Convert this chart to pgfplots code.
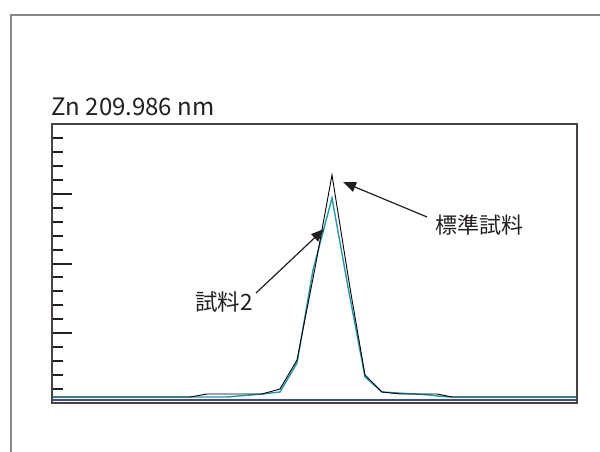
\documentclass[border=0pt]{standalone}
\usepackage{fontspec}
\setmainfont{Noto Sans CJK JP}
\usepackage{pgfplots}
\pgfplotsset{compat=1.18}
\usetikzlibrary{arrows.meta}
\definecolor{framegray}{HTML}{8C8682}
\definecolor{axisgray}{HTML}{4A4240}
\definecolor{tealc}{HTML}{1E9AAA}
\definecolor{bluec}{HTML}{3A4A9A}
\definecolor{textc}{HTML}{231F20}
\begin{document}
\begin{tikzpicture}
\path[use as bounding box] (0pt,0pt) rectangle (600pt,-452pt);
\draw[color=framegray, line width=1.8pt] (11pt,-452pt) -- (11pt,-15pt) -- (601pt,-15pt);
\node[anchor=base west, inner sep=0pt, font=\fontsize{24}{26}\selectfont, text=textc] at (51pt,-115pt) {Zn 209.986 nm};
\node[anchor=west, inner sep=0pt, font=\fontsize{22.5}{24}\selectfont, text=textc] at (195pt,-301.5pt) {試料2};
\node[anchor=west, inner sep=0pt, font=\fontsize{22}{24}\selectfont, text=textc] at (435pt,-225pt) {標準試料};
\begin{axis}[at={(52pt,-403pt)}, anchor=south west, scale only axis,
  width=525pt, height=279pt, xmin=52, xmax=577, ymin=0, ymax=4,
  xtick=\empty, ytick={0,1,2,3,4}, minor y tick num=4, yticklabels={},
  tick align=inside, ytick pos=left,
  major tick length=20pt, minor tick length=11pt,
  major tick style={line width=2pt, draw=textc},
  minor tick style={line width=2pt, draw=textc},
  axis line style={line width=1.5pt, color=axisgray},
  clip=false]
\addplot[bluec, line width=1.1pt] coordinates {(52,0.043) (577,0.043)};
\addplot[tealc, line width=1.4pt] coordinates {
(52,0.086) (227,0.086) (262,0.129) (280,0.158) (297,0.573) (313,1.907) (332,2.939)
(348,1.663) (365,0.373) (382,0.158) (430,0.115) (437,0.100) (450,0.086) (577,0.086)};
\addplot[black, line width=0.9pt] coordinates {
(52,0.086) (190,0.086) (207,0.129) (262,0.129) (280,0.201) (297,0.616) (315,1.935) (332,3.269)
(350,1.649) (365,0.401) (382,0.158) (400,0.129) (437,0.129) (452,0.086) (577,0.086)};
\draw[textc, line width=1.2pt, -{Triangle[length=13pt,width=10pt]}] (axis cs:256,1.577) -- (axis cs:324,2.495);
\draw[textc, line width=1.2pt, -{Triangle[length=13pt,width=10pt]}] (axis cs:427,2.667) -- (axis cs:343,3.168);
\end{axis}
\end{tikzpicture}
\end{document}
